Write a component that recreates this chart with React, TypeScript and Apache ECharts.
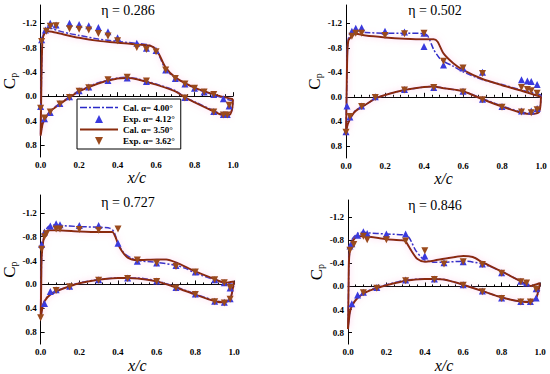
import React, { useEffect, useRef } from "react";
import * as echarts from "echarts";

type P = [number, number];

const ETAS = ["0.286", "0.502", "0.727", "0.846"];
const NAME_CAL_A = "Cal. α= 4.00°";
const NAME_EXP_A = "Exp. α= 4.12°";
const NAME_CAL_B = "Cal. α= 3.50°";
const NAME_EXP_B = "Exp. α= 3.62°";
const Y_TICKS = [-1.2, -0.8, -0.4, 0, 0.4, 0.8];

// ---------- eta = 0.286 ----------
const calA_up_1: P[] = [[0,0.62],[0.003,0.0],[0.006,-0.6],[0.01,-0.95],[0.02,-1.08],[0.04,-1.13],[0.06,-1.11],[0.1,-1.07],[0.15,-1.03],[0.2,-1.0],[0.3,-0.94],[0.4,-0.9],[0.5,-0.87],[0.55,-0.85],[0.58,-0.82],[0.6,-0.77],[0.62,-0.64],[0.65,-0.44],[0.7,-0.3],[0.75,-0.21],[0.8,-0.13],[0.9,-0.02],[0.95,0.03],[1.0,0.08]];
const calA_lo_1: P[] = [[0,0.62],[0.01,0.45],[0.02,0.38],[0.05,0.24],[0.1,0.12],[0.15,0.01],[0.2,-0.09],[0.3,-0.22],[0.4,-0.3],[0.45,-0.31],[0.5,-0.29],[0.6,-0.2],[0.7,-0.09],[0.75,0.02],[0.8,0.09],[0.9,0.24],[0.95,0.3],[0.98,0.3],[0.995,0.22],[1.0,0.08]];
const calB_up_1: P[] = [[0,0.65],[0.003,0.0],[0.006,-0.6],[0.01,-0.92],[0.02,-1.03],[0.04,-1.07],[0.06,-1.06],[0.1,-1.03],[0.2,-0.96],[0.3,-0.91],[0.4,-0.88],[0.5,-0.85],[0.57,-0.83],[0.6,-0.77],[0.62,-0.66],[0.65,-0.47],[0.7,-0.31],[0.8,-0.14],[0.9,-0.03],[1.0,0.05]];
const calB_lo_1: P[] = [[0,0.65],[0.01,0.46],[0.02,0.39],[0.05,0.25],[0.1,0.13],[0.15,0.02],[0.2,-0.08],[0.3,-0.21],[0.4,-0.29],[0.45,-0.3],[0.5,-0.28],[0.6,-0.19],[0.7,-0.08],[0.75,0.02],[0.8,0.1],[0.9,0.25],[0.95,0.31],[0.98,0.31],[0.995,0.22],[1.0,0.05]];
const expA_1: P[] = [[0.005,-0.93],[0.025,-1.09],[0.05,-1.2],[0.08,-1.17],[0.15,-1.2],[0.2,-1.18],[0.25,-1.16],[0.3,-1.13],[0.35,-1.06],[0.4,-0.96],[0.5,-0.87],[0.55,-0.79],[0.6,-0.75],[0.65,-0.43],[0.7,-0.29],[0.75,-0.2],[0.8,-0.13],[0.85,-0.07],[0.9,-0.03],[0.95,0.04],[0.98,0.16],
  [0.0,0.17],[0.02,0.37],[0.05,0.27],[0.1,0.12],[0.15,0.01],[0.2,-0.09],[0.25,-0.15],[0.35,-0.26],[0.45,-0.3],[0.55,-0.24],[0.75,0.02],[0.9,0.25],[0.95,0.3],[0.97,0.3]];
const expB_1: P[] = [[0.005,-0.9],[0.03,-1.07],[0.05,-1.15],[0.08,-1.16],[0.15,-1.11],[0.2,-1.1],[0.25,-1.09],[0.3,-1.03],[0.35,-0.99],[0.4,-0.91],[0.5,-0.8],[0.55,-0.77],[0.6,-0.73],[0.65,-0.43],[0.7,-0.29],[0.75,-0.2],[0.8,-0.13],[0.85,-0.07],[0.9,-0.03],[0.98,0.15],
  [0.0,0.2],[0.02,0.36],[0.05,0.26],[0.1,0.13],[0.15,0.02],[0.2,-0.08],[0.25,-0.14],[0.35,-0.27],[0.45,-0.31],[0.55,-0.25],[0.75,0.03],[0.9,0.26],[0.95,0.31],[0.97,0.31]];

// ---------- eta = 0.502 ----------
const calA_up_2: P[] = [[0,0.57],[0.003,0.0],[0.006,-0.6],[0.012,-0.95],[0.03,-1.04],[0.05,-1.07],[0.1,-1.05],[0.2,-1.04],[0.3,-1.04],[0.4,-1.03],[0.42,-0.99],[0.45,-0.77],[0.48,-0.63],[0.5,-0.58],[0.55,-0.5],[0.6,-0.41],[0.7,-0.28],[0.8,-0.2],[0.9,-0.11],[1.0,-0.03]];
const calA_lo_2: P[] = [[0,0.57],[0.01,0.43],[0.03,0.3],[0.05,0.22],[0.1,0.13],[0.15,0.03],[0.2,-0.03],[0.3,-0.11],[0.4,-0.16],[0.45,-0.17],[0.5,-0.14],[0.6,-0.09],[0.7,0.03],[0.8,0.15],[0.9,0.25],[0.95,0.27],[0.99,0.24],[1.0,-0.03]];
const calB_up_2: P[] = [[0,0.58],[0.003,0.0],[0.006,-0.6],[0.012,-0.92],[0.03,-0.99],[0.05,-1.03],[0.1,-1.0],[0.2,-0.97],[0.3,-0.95],[0.4,-0.94],[0.45,-0.94],[0.47,-0.9],[0.5,-0.71],[0.55,-0.55],[0.6,-0.44],[0.7,-0.29],[0.8,-0.19],[0.9,-0.1],[1.0,0.0]];
const calB_lo_2: P[] = [[0,0.58],[0.01,0.44],[0.03,0.31],[0.05,0.23],[0.1,0.13],[0.15,0.03],[0.2,-0.03],[0.3,-0.11],[0.4,-0.16],[0.45,-0.17],[0.5,-0.14],[0.6,-0.09],[0.7,0.04],[0.8,0.16],[0.9,0.26],[0.95,0.28],[0.99,0.25],[1.0,0.0]];
const expA_2: P[] = [[0.03,-1.07],[0.05,-1.12],[0.08,-1.13],[0.2,-1.07],[0.3,-1.06],[0.4,-1.04],[0.4,-0.82],[0.5,-0.52],[0.6,-0.47],[0.7,-0.4],[0.9,-0.28],[0.93,-0.26],[0.95,-0.25],[0.98,-0.2],
  [0.0,0.57],[0.005,0.15],[0.02,0.33],[0.08,0.15],[0.15,0.0],[0.3,-0.12],[0.45,-0.15],[0.6,-0.09],[0.7,0.04],[0.8,0.16],[0.9,0.23],[0.95,0.23],[0.98,0.19]];
const expB_2: P[] = [[0.03,-0.99],[0.05,-1.04],[0.08,-1.04],[0.2,-1.0],[0.3,-1.03],[0.4,-1.04],[0.5,-0.58],[0.6,-0.47],[0.7,-0.38],[0.9,-0.15],[0.93,-0.12],[0.95,-0.1],[0.98,-0.06],
  [0.0,0.58],[0.02,0.32],[0.08,0.16],[0.15,0.01],[0.3,-0.11],[0.45,-0.15],[0.6,-0.08],[0.7,0.05],[0.8,0.17],[0.9,0.25],[0.95,0.26],[0.98,0.21]];

// ---------- eta = 0.727 ----------
const calA_up_3: P[] = [[0,0.56],[0.003,0.0],[0.006,-0.5],[0.02,-0.85],[0.04,-0.97],[0.08,-1.0],[0.1,-0.99],[0.2,-0.97],[0.3,-0.96],[0.36,-0.94],[0.38,-0.88],[0.4,-0.69],[0.43,-0.53],[0.47,-0.44],[0.5,-0.4],[0.6,-0.37],[0.7,-0.32],[0.75,-0.27],[0.8,-0.19],[0.9,-0.08],[0.95,-0.03],[1.0,0.0]];
const calA_lo_3: P[] = [[0,0.56],[0.01,0.37],[0.02,0.27],[0.05,0.16],[0.1,0.08],[0.15,0.03],[0.2,-0.03],[0.3,-0.08],[0.4,-0.11],[0.45,-0.11],[0.5,-0.11],[0.6,-0.06],[0.7,0.04],[0.8,0.16],[0.9,0.27],[0.95,0.29],[0.98,0.24],[1.0,0.0]];
const calB_up_3: P[] = [[0,0.58],[0.003,0.0],[0.006,-0.5],[0.02,-0.83],[0.04,-0.91],[0.08,-0.91],[0.2,-0.89],[0.3,-0.88],[0.37,-0.88],[0.39,-0.77],[0.41,-0.61],[0.45,-0.45],[0.5,-0.41],[0.6,-0.42],[0.65,-0.42],[0.7,-0.37],[0.8,-0.22],[0.9,-0.09],[0.95,-0.03],[1.0,-0.05]];
const calB_lo_3: P[] = [[0,0.58],[0.01,0.38],[0.02,0.28],[0.05,0.17],[0.1,0.09],[0.15,0.03],[0.2,-0.02],[0.3,-0.08],[0.4,-0.11],[0.45,-0.11],[0.5,-0.1],[0.6,-0.05],[0.7,0.05],[0.8,0.17],[0.9,0.28],[0.95,0.3],[0.98,0.25],[1.0,-0.05]];
const expA_3: P[] = [[0.005,-0.67],[0.02,-0.88],[0.05,-0.98],[0.08,-1.02],[0.1,-1.0],[0.2,-0.99],[0.3,-0.99],[0.4,-0.69],[0.5,-0.39],[0.6,-0.36],[0.7,-0.32],[0.8,-0.21],[0.9,-0.08],[0.95,-0.03],[0.98,0.06],
  [0.02,0.32],[0.05,0.12],[0.08,0.09],[0.15,0.03],[0.3,-0.08],[0.45,-0.11],[0.6,-0.06],[0.7,0.05],[0.8,0.16],[0.9,0.28],[0.95,0.3],[0.98,0.24]];
const expB_3: P[] = [[0.005,-0.59],[0.02,-0.8],[0.03,-0.85],[0.08,-0.93],[0.1,-0.93],[0.2,-0.92],[0.3,-0.91],[0.4,-0.93],[0.5,-0.41],[0.6,-0.36],[0.7,-0.3],[0.8,-0.21],[0.9,-0.08],[0.95,-0.03],[0.98,0.05],
  [0.0,0.56],[0.08,0.1],[0.15,0.04],[0.3,-0.07],[0.45,-0.1],[0.6,-0.05],[0.7,0.06],[0.8,0.17],[0.9,0.29],[0.95,0.31],[0.98,0.25]];

// ---------- eta = 0.846 ----------
const calA_up_4: P[] = [[0,0.72],[0.003,0.0],[0.006,-0.5],[0.02,-0.81],[0.05,-0.92],[0.08,-0.94],[0.1,-0.93],[0.2,-0.91],[0.3,-0.89],[0.32,-0.84],[0.35,-0.64],[0.38,-0.51],[0.4,-0.46],[0.45,-0.42],[0.5,-0.42],[0.6,-0.44],[0.7,-0.39],[0.8,-0.26],[0.9,-0.09],[0.95,-0.01],[1.0,0.04]];
const calA_lo_4: P[] = [[0,0.72],[0.01,0.44],[0.02,0.33],[0.05,0.19],[0.1,0.08],[0.15,0.02],[0.2,-0.03],[0.3,-0.11],[0.4,-0.13],[0.45,-0.13],[0.5,-0.12],[0.6,-0.03],[0.7,0.08],[0.8,0.19],[0.9,0.26],[0.95,0.26],[0.98,0.19],[1.0,0.04]];
const calB_up_4: P[] = [[0,0.74],[0.003,0.0],[0.006,-0.5],[0.02,-0.76],[0.05,-0.87],[0.08,-0.87],[0.2,-0.82],[0.28,-0.8],[0.3,-0.78],[0.33,-0.62],[0.36,-0.48],[0.4,-0.43],[0.45,-0.45],[0.5,-0.48],[0.6,-0.53],[0.65,-0.51],[0.7,-0.42],[0.8,-0.26],[0.9,-0.09],[0.95,-0.01],[1.0,-0.06]];
const calB_lo_4: P[] = [[0,0.74],[0.01,0.45],[0.02,0.34],[0.05,0.2],[0.1,0.09],[0.15,0.03],[0.2,-0.02],[0.3,-0.1],[0.4,-0.13],[0.45,-0.13],[0.5,-0.12],[0.6,-0.03],[0.7,0.08],[0.8,0.19],[0.9,0.26],[0.95,0.27],[0.98,0.2],[1.0,-0.06]];
const expA_4: P[] = [[0.01,-0.7],[0.02,-0.74],[0.05,-0.89],[0.08,-0.95],[0.1,-0.92],[0.2,-0.91],[0.3,-0.91],[0.4,-0.53],[0.5,-0.41],[0.6,-0.43],[0.7,-0.39],[0.8,-0.24],[0.9,-0.09],[0.93,-0.06],[0.98,0.04],
  [0.02,0.3],[0.05,0.15],[0.08,0.1],[0.15,0.02],[0.3,-0.11],[0.45,-0.13],[0.6,-0.03],[0.7,0.08],[0.8,0.2],[0.9,0.26],[0.95,0.26],[0.98,0.2]];
const expB_4: P[] = [[0.01,-0.63],[0.03,-0.73],[0.08,-0.87],[0.1,-0.81],[0.2,-0.81],[0.3,-0.79],[0.4,-0.62],[0.5,-0.39],[0.6,-0.43],[0.7,-0.38],[0.8,-0.23],[0.9,-0.08],[0.93,-0.06],[0.98,0.05],
  [0.08,0.11],[0.15,0.03],[0.3,-0.1],[0.45,-0.12],[0.6,-0.02],[0.7,0.09],[0.8,0.21],[0.9,0.27],[0.95,0.27]];

const PANELS = [
  { calAUp: calA_up_1, calALo: calA_lo_1, calBUp: calB_up_1, calBLo: calB_lo_1, expA: expA_1, expB: expB_1 },
  { calAUp: calA_up_2, calALo: calA_lo_2, calBUp: calB_up_2, calBLo: calB_lo_2, expA: expA_2, expB: expB_2 },
  { calAUp: calA_up_3, calALo: calA_lo_3, calBUp: calB_up_3, calBLo: calB_lo_3, expA: expA_3, expB: expB_3 },
  { calAUp: calA_up_4, calALo: calA_lo_4, calBUp: calB_up_4, calBLo: calB_lo_4, expA: expA_4, expB: expB_4 },
];

const GRIDS = [
  { left: 37, top: 5, width: 196, height: 152 },
  { left: 346, top: 5, width: 195, height: 153 },
  { left: 33, top: 195, width: 201, height: 157 },
  { left: 348, top: 200, width: 192, height: 150 },
];
const TITLE_POS = [[128, 10], [435, 10], [128, 202], [435, 205]];

const SERIF = "'Liberation Serif','Times New Roman',serif";
const BLUE_LINE = "#2a2ac8";
const BLUE_MARK = "#3a3ade";
const RED_LINE = "#8a2c0e";
const RED_MARK = "#9a4a1c";
const HALO = "rgba(255,160,210,0.55)";

// legend icon shapes (drawn within a 38 x 9 box)
const ICON_DASHDOT = "path://M0,3.8h7v1.5h-7zM9,3.8h2v1.5h-2zM13,3.8h7v1.5h-7zM22,3.8h2v1.5h-2zM26,3.8h7v1.5h-7zM35,3.8h3v1.5h-3z M0,0h0.01v0.01h-0.01zM38,9h-0.01v-0.01h0.01z";
const ICON_SOLID = "path://M0,3.5h38v2h-38z M0,0h0.01v0.01h-0.01zM38,9h-0.01v-0.01h0.01z";
const ICON_UP = "path://M15,9L19,1L23,9Z M0,0h0.01v0.01h-0.01zM38,9h-0.01v-0.01h0.01z";
const ICON_DOWN = "path://M15,1L23,1L19,9Z M0,0h0.01v0.01h-0.01zM38,9h-0.01v-0.01h0.01z";

const loop = (up: P[], lo: P[]) => [...up.slice().reverse(), ...lo];

export default function App() {
  const ref = useRef<HTMLDivElement>(null);
  useEffect(() => {
    const chart = echarts.init(ref.current!, null, { renderer: "svg" });
    const xAxes = GRIDS.map((_, i) => ({
      type: "value", gridIndex: i, min: 0, max: 1, interval: 0.2,
      name: "x/c", nameLocation: "middle", nameGap: 6,
      nameTextStyle: { fontFamily: SERIF, fontStyle: "italic", fontSize: 16, color: "#000", verticalAlign: "top" },
      axisLine: { lineStyle: { color: "#000", width: 1 } },
      axisTick: { inside: true, length: 4, lineStyle: { color: "#000" } },
      minorTick: { show: true, splitNumber: 5, length: 2, lineStyle: { color: "#000" } },
      axisLabel: { fontFamily: SERIF, fontWeight: "bold", fontSize: 9, color: "#000", margin: 3, formatter: (v: number) => v.toFixed(1) },
      splitLine: { show: false },
    }));
    const yAxes = GRIDS.map((_, i) => ({
      type: "value", gridIndex: i, min: -1.5, max: 1.0, inverse: true,
      name: "{c|C}{p|p}", nameLocation: "middle", nameRotate: 90, nameGap: 3,
      nameTextStyle: {
        rich: {
          c: { fontFamily: SERIF, fontSize: 17, color: "#000" },
          p: { fontFamily: SERIF, fontSize: 10, color: "#000", padding: [8, 0, 0, 0] },
        },
      },
      axisLine: { show: true, lineStyle: { color: "#000", width: 1 } },
      axisTick: { show: true, inside: true, length: 4, customValues: Y_TICKS, lineStyle: { color: "#000" } },
      axisLabel: { fontFamily: SERIF, fontWeight: "bold", fontSize: 9, color: "#000", margin: 4, customValues: Y_TICKS, formatter: (v: number) => v.toFixed(1) },
      splitLine: { show: false },
    }));
    const series: any[] = [];
    PANELS.forEach((p, i) => {
      series.push({
        name: NAME_CAL_A, type: "line", xAxisIndex: i, yAxisIndex: i, data: loop(p.calAUp, p.calALo),
        symbol: "none", smooth: 0.25, lineStyle: { color: BLUE_LINE, width: 1.5, type: [6, 2, 2, 2] }, itemStyle: { color: BLUE_LINE }, z: 3,
      });
      series.push({
        name: NAME_CAL_B, type: "line", xAxisIndex: i, yAxisIndex: i, data: loop(p.calBUp, p.calBLo),
        symbol: "none", smooth: 0.25,
        lineStyle: { color: RED_LINE, width: 2, shadowColor: HALO, shadowBlur: 6 },
        itemStyle: { color: RED_LINE }, z: 3,
      });
      series.push({
        name: NAME_EXP_A, type: "scatter", xAxisIndex: i, yAxisIndex: i, data: p.expA,
        symbol: "triangle", symbolSize: 7, itemStyle: { color: BLUE_MARK, opacity: 1 }, z: 4,
      });
      series.push({
        name: NAME_EXP_B, type: "scatter", xAxisIndex: i, yAxisIndex: i, data: p.expB,
        symbol: "triangle", symbolRotate: 180, symbolSize: 7, itemStyle: { color: RED_MARK, opacity: 1 }, z: 4,
      });
    });
    chart.setOption({
      animation: false,
      backgroundColor: "#fff",
      grid: GRIDS.map((g) => ({ ...g, containLabel: false })),
      xAxis: xAxes,
      yAxis: yAxes,
      legend: {
        data: [
          { name: NAME_CAL_A, icon: ICON_DASHDOT, symbolRotate: 0 },
          { name: NAME_EXP_A, icon: ICON_UP, symbolRotate: 0 },
          { name: NAME_CAL_B, icon: ICON_SOLID, symbolRotate: 0, itemStyle: { shadowBlur: 0 } },
          { name: NAME_EXP_B, icon: ICON_DOWN, symbolRotate: 0 },
        ],
        orient: "vertical", left: 77, top: 99,
        backgroundColor: "#fff", borderColor: "#000", borderWidth: 1, borderRadius: 0,
        padding: [4, 6, 4, 3], itemGap: 2, itemWidth: 38, itemHeight: 9,
        symbolKeepAspect: false, symbolRotate: 0,
        textStyle: { fontFamily: SERIF, fontWeight: "bold", fontSize: 9, color: "#000" },
        selectedMode: false, z: 10,
      },
      graphic: ETAS.map((e, i) => ({
        type: "text", x: TITLE_POS[i][0], y: TITLE_POS[i][1],
        style: { text: "η = " + e, fontFamily: SERIF, fontSize: 14, fontWeight: "normal", fill: "#000", align: "center", verticalAlign: "middle" },
      })),
      series,
    });
    return () => chart.dispose();
  }, []);
  return <div ref={ref} style={{ position: "fixed", left: 0, top: 0, width: 550, height: 374 }} />;
}
